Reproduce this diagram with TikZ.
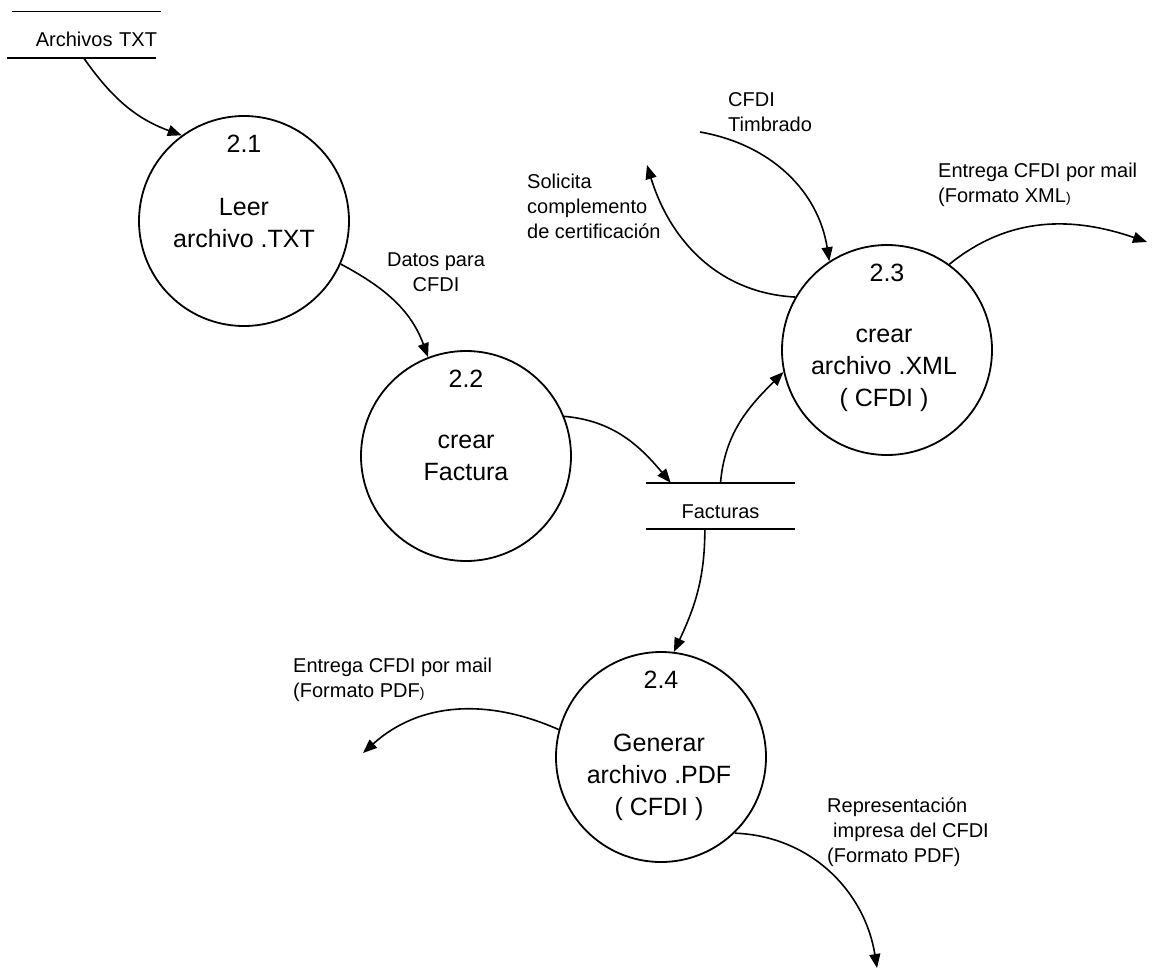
\documentclass[tikz,border=0pt]{standalone}
\usepackage{fontspec}
\setmainfont{Liberation Sans}
\usetikzlibrary{arrows.meta}

\tikzset{
  proc/.style={draw, circle, minimum size=210pt, inner sep=0pt, line width=1.8pt},
  store/.style={minimum width=149pt, minimum height=46pt, inner sep=0pt,
    text height=24pt, text depth=0pt, font=\fontsize{20}{25}\selectfont},
  flow/.style={->, line width=1.6pt},
  lbl/.style={font=\fontsize{20}{25}\selectfont, align=left, inner sep=0pt},
  ptxt/.style={font=\fontsize{25}{32}\selectfont, align=center, inner sep=0pt},
  pnum/.style={font=\fontsize{25}{30}\selectfont, inner sep=0pt},
}

\begin{document}
\begin{tikzpicture}[x=1pt, y=-1pt, >={Triangle[length=14pt,width=11pt]}]
\useasboundingbox (0,0) rectangle (1154,975);

\node[store, text width=141pt, align=right] (txt) at (86.5,34.5) {Archivos TXT};
\draw[line width=1.6pt] (txt.north west) -- (txt.north east);
\draw[line width=1.6pt] ([xshift=-5pt]txt.south west) -- ([xshift=-5pt]txt.south east);

\node[store] (fac) at (720.5,506) {Facturas};
\draw[line width=1.6pt] (fac.north west) -- (fac.north east);
\draw[line width=1.6pt] (fac.south west) -- (fac.south east);

\node[proc] (p21) at (244,221) {};
\node[pnum] (n21) at (244,144) {2.1};
\node[ptxt] (t21) at (244,223) {Leer\\archivo .TXT};

\node[proc] (p22) at (466,456) {};
\node[pnum] (n22) at (466,379) {2.2};
\node[ptxt] (t22) at (466,458) {crear\\Factura};

\node[proc] (p23) at (887,350) {};
\node[pnum] (n23) at (887,273) {2.3};
\node[ptxt] (t23) at (884,370) {crear\\archivo .XML\\( CFDI )};

\node[proc] (p24) at (661,757) {};
\node[pnum] (n24) at (661,680) {2.4};
\node[ptxt] (t24) at (659,777) {Generar\\archivo .PDF\\( CFDI )};

\node[lbl, align=center] (ldatos) at (436,272) {Datos para\\CFDI};
\node[lbl, anchor=west] (ltimb) at (728,112) {CFDI\\Timbrado};
\node[lbl, anchor=west] (lsol) at (527,206) {Solicita\\complemento\\de certificación};
\node[lbl, anchor=west] (lxml) at (938,185) {Entrega CFDI por mail\\(Formato XML{\fontsize{14}{14}\selectfont)}};
\node[lbl, anchor=west] (lpdf) at (293,680) {Entrega CFDI por mail\\(Formato PDF{\fontsize{14}{14}\selectfont)}};
\node[lbl, anchor=west] (lrep) at (827,832) {Representación\\\hspace{6pt}impresa del CFDI\\(Formato PDF)};

\coordinate (timb) at (700,132);
\coordinate (sol) at (647,165);
\coordinate (xml) at (1147,242);
\coordinate (pdf) at (363,753);
\coordinate (rep) at (877,968);

\draw[flow] ([xshift=-3pt]txt.south) to[out=-55,in=160] (p21.126);
\draw[flow] (p21.-24) to[out=-28,in=110] (p22.111);
\draw[flow] (p22.22) to[out=-5,in=130] (fac.155);
\draw[flow] (fac.north) to[out=85,in=-135] (p23.192);
\draw[flow] (fac.-124) to[out=-90,in=65] (p24.83);
\draw[flow] (timb) to[out=-10,in=99] (p23.123);
\draw[flow] (p23.150) to[out=177,in=-73] (sol);
\draw[flow] (p23.54) to[out=39,in=161] (xml);
\draw[flow] (p24.165) to[out=156,in=42] (pdf);
\draw[flow] (p24.-46) to[out=-2,in=99] (rep);

\end{tikzpicture}
\end{document}
